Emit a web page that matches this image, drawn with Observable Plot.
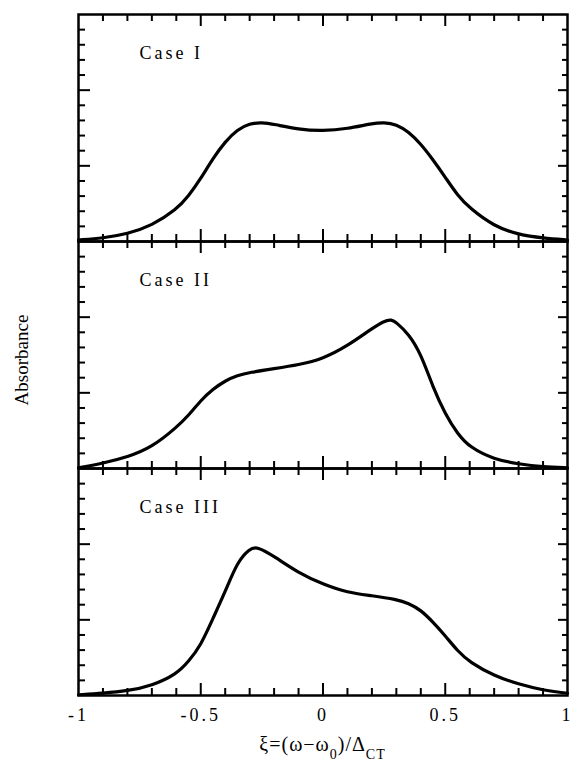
<!DOCTYPE html>
<html>
<head>
<meta charset="utf-8">
<script src="https://cdn.jsdelivr.net/npm/d3@7"></script>
<script src="https://cdn.jsdelivr.net/npm/@observablehq/plot@0.6"></script>
<style>
  body { margin: 0; background: #fff; }
  #wrap { position: relative; width: 572px; height: 765px; font-family: "Liberation Serif", "DejaVu Serif", serif; color: #000; }
  #wrap svg text { letter-spacing: 3px; }
  #ylab { position: absolute; left: 22px; top: 360px; transform: translate(-50%, -50%) rotate(-90deg); font-size: 19px; white-space: nowrap; }
  #xlab { position: absolute; left: 78px; width: 489px; top: 733px; text-align: center; font-size: 20px; letter-spacing: 1px; white-space: nowrap; }
  #xlab sub { font-size: 14px; vertical-align: -8px; }
</style>
</head>
<body>
<div id="wrap">
  <div id="chart"></div>
  <div id="ylab">Absorbance</div>
  <div id="xlab">ξ=(ω−ω<sub>0</sub>)/Δ<sub>CT</sub></div>
</div>
<script>
// ---- data ----
const cases = ["I", "II", "III"];

const caseI_x = [-1,-0.9,-0.8,-0.7,-0.6,-0.55,-0.5,-0.45,-0.4,-0.35,-0.3,-0.25,-0.2,-0.1,0,0.1,0.2,0.25,0.3,0.35,0.4,0.45,0.5,0.55,0.6,0.7,0.8,0.9,1];
const caseI_y = [0.02,0.045,0.10,0.21,0.42,0.60,0.83,1.10,1.32,1.48,1.56,1.575,1.55,1.48,1.46,1.49,1.56,1.575,1.55,1.45,1.29,1.08,0.85,0.61,0.44,0.20,0.09,0.045,0.02];

const caseII_x = [-1,-0.9,-0.8,-0.7,-0.6,-0.55,-0.5,-0.45,-0.4,-0.35,-0.3,-0.2,-0.1,0,0.1,0.2,0.25,0.28,0.3,0.35,0.4,0.45,0.5,0.55,0.6,0.7,0.8,0.9,1];
const caseII_y = [0.01,0.07,0.15,0.28,0.54,0.70,0.90,1.05,1.16,1.23,1.27,1.32,1.37,1.45,1.62,1.85,1.95,1.97,1.93,1.78,1.52,1.07,0.72,0.46,0.28,0.12,0.06,0.02,0.01];

const caseIII_x = [-1,-0.9,-0.8,-0.7,-0.6,-0.55,-0.5,-0.45,-0.4,-0.35,-0.3,-0.27,-0.2,-0.1,0,0.1,0.2,0.3,0.35,0.4,0.45,0.5,0.55,0.6,0.7,0.8,0.9,1];
const caseIII_y = [0.01,0.03,0.06,0.13,0.28,0.45,0.66,1.02,1.37,1.77,1.94,1.97,1.84,1.62,1.47,1.36,1.32,1.27,1.22,1.13,0.97,0.79,0.59,0.44,0.26,0.15,0.07,0.03];

const xTickLabels = [-1, -0.5, 0, 0.5, 1];
const xMajorTicks = [-0.5, 0, 0.5];
const xMinorTicks = [-0.9,-0.8,-0.7,-0.6,-0.4,-0.3,-0.2,-0.1,0.1,0.2,0.3,0.4,0.6,0.7,0.8,0.9];
const yMajorTicks = [1, 2];
const yMinorTicks = [0.2,0.4,0.6,0.8,1.2,1.4,1.6,1.8,2.2,2.4,2.6,2.8];

// ---- table ----
const series = [[caseI_x, caseI_y], [caseII_x, caseII_y], [caseIII_x, caseIII_y]];
const rows = [];
series.forEach(([xs, ys], i) => xs.forEach((x, j) => rows.push({case: cases[i], x, y: ys[j]})));

// ---- layout ----
const W = 572, H = 730, mL = 78, mR = 5, mT = 14, mB = 35;
const plotW = W - mL - mR;
const panelH = (H - mT - mB) / cases.length;
const minorLen = 7, majorLen = 12;
const tk = {stroke: "#000", strokeWidth: 2};

const chart = Plot.plot({
  width: W, height: H,
  marginLeft: mL, marginRight: mR, marginTop: mT, marginBottom: mB,
  style: {fontFamily: "'Liberation Serif', serif", fontSize: "18px", color: "#000", background: "#fff"},
  x: {domain: [-1, 1], axis: null},
  y: {domain: [0, 3], axis: null},
  fy: {domain: cases, padding: 0, axis: null},
  marks: [
    // inward ticks, bottom edge
    Plot.tickX(xMinorTicks, {x: d => d, insetTop: panelH - minorLen, ...tk}),
    Plot.tickX(xMajorTicks, {x: d => d, insetTop: panelH - majorLen, ...tk}),
    // inward ticks, top edge
    Plot.tickX(xMinorTicks, {x: d => d, insetBottom: panelH - minorLen, ...tk}),
    Plot.tickX(xMajorTicks, {x: d => d, insetBottom: panelH - majorLen, ...tk}),
    // inward ticks, left edge
    Plot.tickY(yMinorTicks, {y: d => d, insetRight: plotW - minorLen, ...tk}),
    Plot.tickY(yMajorTicks, {y: d => d, insetRight: plotW - majorLen, ...tk}),
    // inward ticks, right edge
    Plot.tickY(yMinorTicks, {y: d => d, insetLeft: plotW - minorLen + 2, ...tk}),
    Plot.tickY(yMajorTicks, {y: d => d, insetLeft: plotW - majorLen + 3, ...tk}),
    Plot.line(rows, {x: "x", y: "y", fy: "case", curve: "basis", stroke: "#000", strokeWidth: 3.2}),
    Plot.text(cases, {fy: d => d, text: d => "Case " + d, frameAnchor: "top-left", dx: 61, dy: 39,
      textAnchor: "start", lineAnchor: "middle", fontSize: 18, fill: "#000"}),
    Plot.frame({stroke: "#000", strokeWidth: 2.5}),
    Plot.axisX(xTickLabels, {anchor: "bottom", tickSize: 0, tickPadding: 13, tickFormat: d => String(d), fontSize: 18, fill: "#000", label: null})
  ]
});
document.getElementById("chart").appendChild(chart);
</script>
</body>
</html>
